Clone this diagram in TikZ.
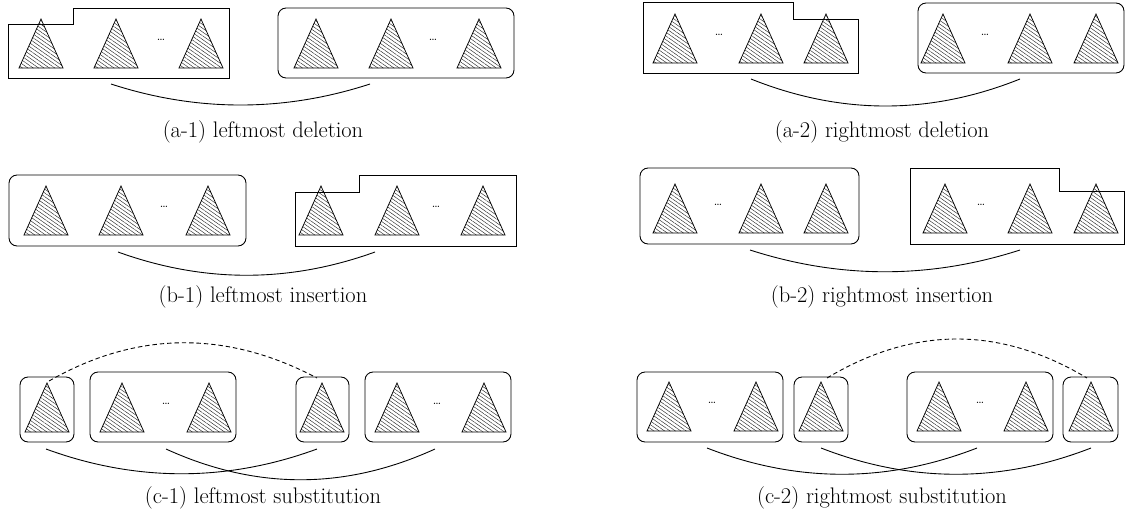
\documentclass[tikz,border=0pt]{standalone}
\usetikzlibrary{patterns.meta,fit}
\def\U{0.68pt}
\tikzset{
  tree/.pic={\draw[line width=0.5pt, pattern={Lines[angle=-35,distance=2.1pt,line width=0.3pt]}, pattern color=black!85]
      (0,0) -- (22,49) -- (-22,49) -- cycle;},
  rbox/.style={draw, line width=0.6pt, rounded corners=5.5pt, inner sep=0pt},
  poly/.style={draw, line width=0.6pt},
  link/.style={line width=0.6pt},
  dlink/.style={line width=0.6pt, dashed, dash pattern=on 3pt off 2pt},
  dotsn/.style={font=\fontsize{8}{9}\selectfont, inner sep=0pt},
  captext/.style={font=\fontsize{15.3}{18}\selectfont, inner sep=0pt, anchor=base}
}
\begin{document}
\begin{tikzpicture}[x=\U,y=-\U]
\useasboundingbox (0,0) rectangle (1127,516);

% ---------------- (a-1)
\draw[poly] (8,24) -- (73,24) -- (73,8) -- (229,8) -- (229,78) -- (8,78) -- cycle;
\pic at (41,19) {tree}; \pic at (116,19) {tree}; \pic at (201,19) {tree};
\node[dotsn] (a1d1) at (161,40) {\dots};
\node[rbox, fit={(278,8) (514,78)}] (a1box) {};
\pic at (316,19) {tree}; \pic at (391,19) {tree}; \pic at (479,19) {tree};
\node[dotsn] (a1d2) at (433,40) {\dots};
\coordinate (a1s) at (111,84); \coordinate (a1e) at (370,84);
\draw[link] (a1s) .. controls +(86,28) and +(-86,28) .. (a1e);
\node[captext] (a1cap) at (263,137) {(a-1) leftmost deletion};

% ---------------- (a-2)
\draw[poly] (643,2) -- (793,2) -- (793,19) -- (858,19) -- (858,73) -- (643,73) -- cycle;
\pic at (675,14) {tree}; \pic at (761,14) {tree}; \pic at (826,14) {tree};
\node[dotsn] (a2d1) at (719,35) {\dots};
\node[rbox, fit={(918,3) (1124,73)}] (a2box) {};
\pic at (943,14) {tree}; \pic at (1030,14) {tree}; \pic at (1096,14) {tree};
\node[dotsn] (a2d2) at (985,35) {\dots};
\coordinate (a2s) at (751,79); \coordinate (a2e) at (1020,79);
\draw[link] (a2s) .. controls +(90,36) and +(-90,36) .. (a2e);
\node[captext] (a2cap) at (882,137) {(a-2) rightmost deletion};

% ---------------- (b-1)
\node[rbox, fit={(9,175) (246,246)}] (b1box) {};
\pic at (46,186) {tree}; \pic at (121,186) {tree}; \pic at (208,186) {tree};
\node[dotsn] (b1d1) at (164,207) {\dots};
\draw[poly] (295,192) -- (359,192) -- (359,175) -- (516,175) -- (516,246) -- (295,246) -- cycle;
\pic at (321,186) {tree}; \pic at (397,186) {tree}; \pic at (483,186) {tree};
\node[dotsn] (b1d2) at (436,207) {\dots};
\coordinate (b1s) at (118,252); \coordinate (b1e) at (375,252);
\draw[link] (b1s) .. controls +(86,31) and +(-86,31) .. (b1e);
\node[captext] (b1cap) at (263,302) {(b-1) leftmost insertion};

% ---------------- (b-2)
\node[rbox, fit={(640,168) (859,244)}] (b2box) {};
\pic at (675,184) {tree}; \pic at (761,184) {tree}; \pic at (826,184) {tree};
\node[dotsn] (b2d1) at (718,205) {\dots};
\draw[poly] (910,168) -- (1059,168) -- (1059,191) -- (1124,191) -- (1124,244) -- (910,244) -- cycle;
\pic at (945,184) {tree}; \pic at (1030,184) {tree}; \pic at (1096,184) {tree};
\node[dotsn] (b2d2) at (981,205) {\dots};
\coordinate (b2s) at (750,250); \coordinate (b2e) at (1020,250);
\draw[link] (b2s) .. controls +(90,29) and +(-90,29) .. (b2e);
\node[captext] (b2cap) at (882,302) {(b-2) rightmost insertion};

% ---------------- (c-1)
\node[rbox, fit={(20,377) (74,442)}] (c1b1) {};
\pic at (47,383) {tree};
\node[rbox, fit={(90,372) (236,442)}] (c1b2) {};
\pic at (122,383) {tree}; \pic at (209,383) {tree};
\node[dotsn] (c1d1) at (166,404) {\dots};
\node[rbox, fit={(296,377) (349,442)}] (c1b3) {};
\pic at (322,383) {tree};
\node[rbox, fit={(365,372) (511,442)}] (c1b4) {};
\pic at (397,383) {tree}; \pic at (484,383) {tree};
\node[dotsn] (c1d2) at (437,404) {\dots};
\coordinate (c1ds) at (49,381); \coordinate (c1de) at (317,378);
\draw[dlink] (c1ds) .. controls +(89,-51) and +(-89,-47) .. (c1de);
\coordinate (c1as) at (46,449); \coordinate (c1ae) at (317,449);
\draw[link] (c1as) .. controls +(90,33) and +(-90,33) .. (c1ae);
\coordinate (c1bs) at (166,449); \coordinate (c1be) at (435,449);
\draw[link] (c1bs) .. controls +(90,41) and +(-90,41) .. (c1be);
\node[captext] (c1cap) at (263,503) {(c-1) leftmost substitution};

% ---------------- (c-2)
\node[rbox, fit={(637,372) (783,442)}] (c2b1) {};
\pic at (669,382) {tree}; \pic at (756,382) {tree};
\node[dotsn] (c2d1) at (712,403) {\dots};
\node[rbox, fit={(794,377) (848,442)}] (c2b2) {};
\pic at (821,382) {tree};
\node[rbox, fit={(907,372) (1053,442)}] (c2b3) {};
\pic at (939,382) {tree}; \pic at (1026,382) {tree};
\node[dotsn] (c2d2) at (980,403) {\dots};
\node[rbox, fit={(1063,377) (1118,442)}] (c2b4) {};
\pic at (1091,382) {tree};
\coordinate (c2ds) at (827,378); \coordinate (c2de) at (1087,378);
\draw[dlink] (c2ds) .. controls +(87,-52) and +(-87,-52) .. (c2de);
\coordinate (c2as) at (707,448); \coordinate (c2ae) at (977,448);
\draw[link] (c2as) .. controls +(90,35) and +(-90,35) .. (c2ae);
\coordinate (c2bs) at (821,448); \coordinate (c2be) at (1091,448);
\draw[link] (c2bs) .. controls +(90,35) and +(-90,35) .. (c2be);
\node[captext] (c2cap) at (882,503) {(c-2) rightmost substitution};
\end{tikzpicture}
\end{document}
